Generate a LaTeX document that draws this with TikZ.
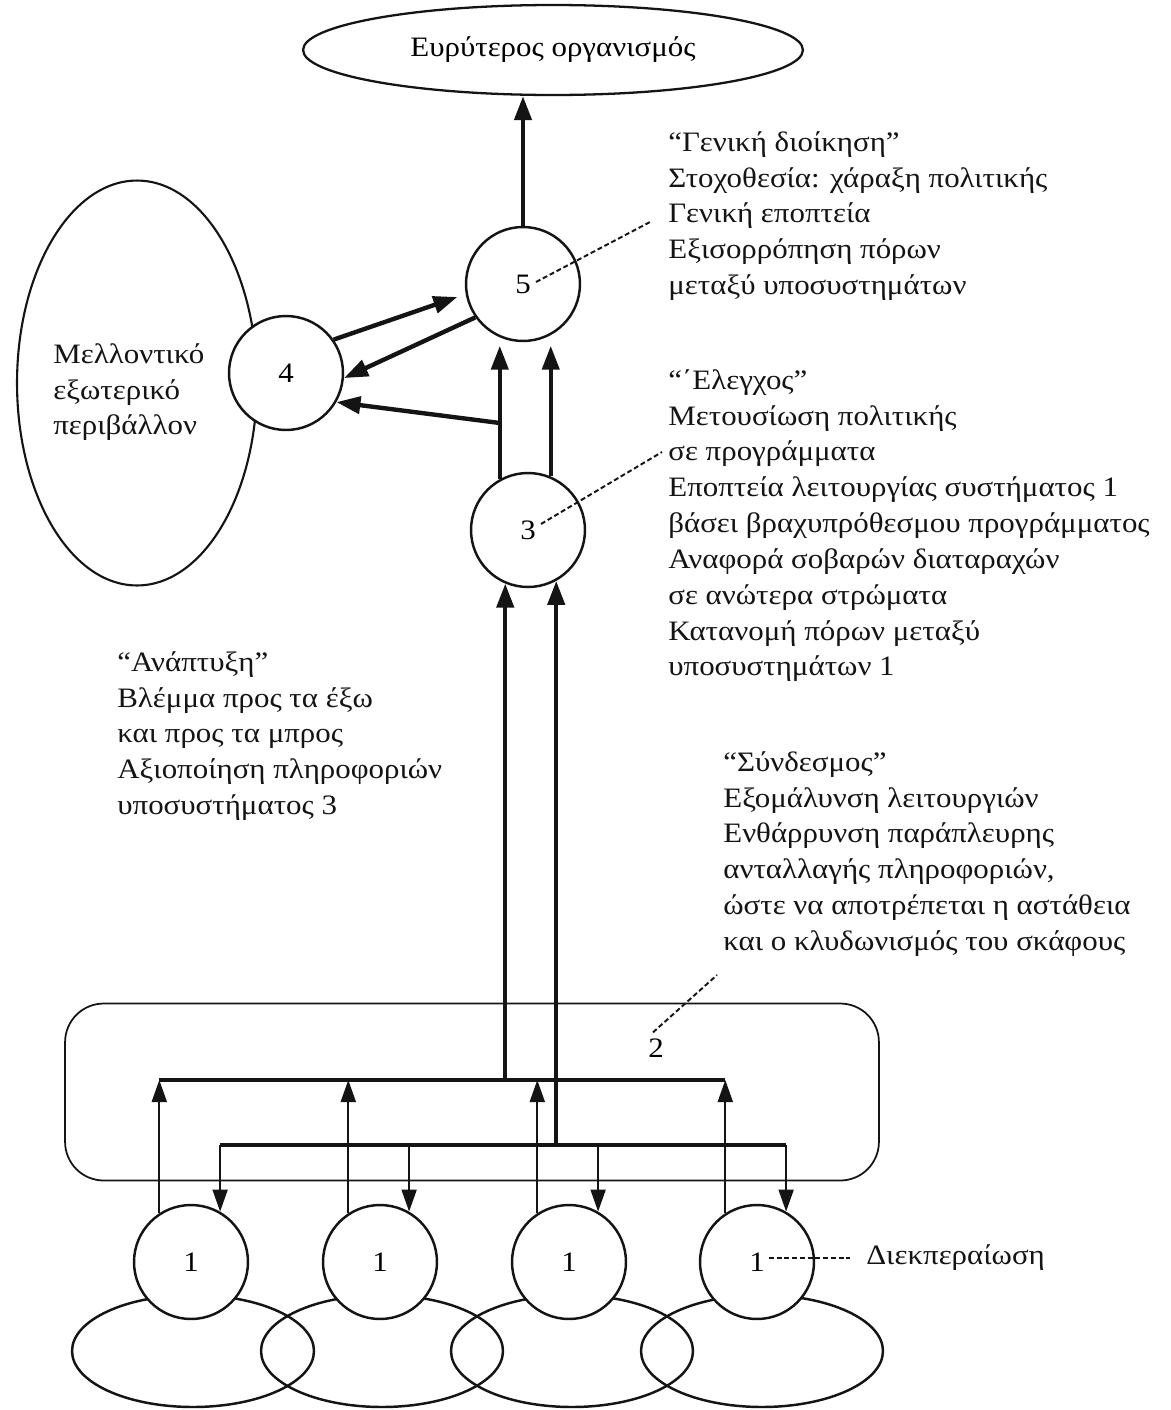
\documentclass[tikz,border=0pt]{standalone}
\usepackage{fontspec}
\setmainfont[FakeStretch=1.1]{Liberation Serif}
\usetikzlibrary{
  shapes.geometric,
  arrows.meta,
  positioning,
  calc
}
\definecolor{inkcolor}{RGB}{20, 20, 20}
\newcommand{\diagfont}{\fontsize{16}{20.4}\selectfont}
\tikzset{
bodytext/.style={
  font=\diagfont,
  text=inkcolor,
  align=left,
  inner sep=0pt
},
unitcircle/.style={
  circle,
  draw=inkcolor,
  fill=white,
  line width=1.4pt,
  minimum size=2.28cm,
  inner sep=0pt,
  font=\diagfont
},
orgellipse/.style={
  ellipse,
  draw=inkcolor,
  line width=1.3pt,
  minimum width=10cm,
  minimum height=1.8cm,
  font=\diagfont
},
envellipse/.style={
  ellipse,
  draw=inkcolor,
  line width=1.2pt,
  minimum width=4.8cm,
  minimum height=8.1cm
},
groundellipse/.style={
  ellipse,
  draw=inkcolor,
  line width=1.4pt,
  minimum width=4.84cm,
  minimum height=2.24cm
},
linkbox/.style={
  draw=inkcolor,
  rounded corners=22pt,
  line width=1pt,
  minimum width=16.28cm,
  minimum height=3.54cm
},
busline/.style={
  draw=inkcolor,
  line width=1.8pt
},
thinarrow/.style={
  -{Triangle[length=4.4mm,width=3mm]},
  line width=1.1pt,
  draw=inkcolor
},
heavyarrow/.style={
  -{Triangle[length=4.8mm,width=3.4mm]},
  line width=2.5pt,
  draw=inkcolor
},
leader/.style={
  draw=inkcolor,
  line width=1.1pt,
  dash pattern=on 2.8pt off 1.6pt
}
}

\begin{document}
\begin{tikzpicture}[x=0.02cm, y=-0.02cm]
  \useasboundingbox[fill=white] (0,0) rectangle (1170,1410);

  \node[orgellipse] (org) at (553,50) {Ευρύτερος οργανισμός};
  \node[envellipse] (env) at (137,383) {};
  \node[bodytext, anchor=north west] (envtext) at (53,343) {Μελλοντικό\\εξωτερικό\\περιβάλλον};

  \node[unitcircle] (c5) at (523,284) {5};
  \node[unitcircle] (c4) at (286,373) {4};
  \node[unitcircle] (c3) at (528,530) {3};

  \node[linkbox] (box2) at (472,1092) {};
  \node[font=\diagfont, inner sep=0pt] (lbl2) at (656,1048) {2};

  \foreach \i/\x in {a/193, b/382, c/572, d/762}
    \node[groundellipse] (g\i) at (\x,1351) {};
  \foreach \i/\x in {a/191, b/380, c/569, d/757}
    \node[unitcircle] (c1\i) at (\x,1262) {1};

  \coordinate (busup) at (0,1080);
  \coordinate (busdn) at (0,1145);
  \draw[busline] (c1a.123 |- busup) -- (c1d.123 |- busup);
  \draw[busline] (c1a.60 |- busdn) -- (c1d.60 |- busdn);
  \foreach \i in {a,b,c,d} {
    \draw[thinarrow] (c1\i.123) -- (c1\i.123 |- busup);
    \draw[thinarrow] (c1\i.60 |- busdn) -- (c1\i.60);
  }

  \draw[heavyarrow] (c3.247 |- busup) -- (c3.247);
  \draw[heavyarrow] (c3.299 |- busdn) -- (c3.299);

  \coordinate (tap) at (500,423);
  \draw[heavyarrow, shorten >=2pt] (c3.119) -- (c3.119 |- c5.south);
  \draw[heavyarrow, shorten >=2pt] (c3.67) -- (c3.67 |- c5.south);
  \draw[heavyarrow] (c3.119 |- tap) -- (c4.330);

  \draw[heavyarrow, shorten >=5pt] (c4.35) -- (c5.190);
  \draw[heavyarrow] (c5.215) -- (c4.355);
  \draw[heavyarrow] (c5.north) -- (c5.north |- org.south);

  \node[bodytext, anchor=north west] (boss) at (668,131) {“Γενική διοίκηση”\\Στοχοθεσία: χάραξη πολιτικής\\Γενική εποπτεία\\Εξισορρόπηση πόρων\\μεταξύ υποσυστημάτων};
  \node[bodytext, anchor=north west] (ctrl) at (668,369) {“΄Ελεγχος”\\Μετουσίωση πολιτικής\\σε προγράμματα\\Εποπτεία λειτουργίας συστήματος 1\\βάσει βραχυπρόθεσμου προγράμματος\\Αναφορά σοβαρών διαταραχών\\σε ανώτερα στρώματα\\Κατανομή πόρων μεταξύ\\υποσυστημάτων 1};
  \node[bodytext, anchor=north west] (devt) at (117,651) {“Ανάπτυξη”\\Βλέμμα προς τα έξω\\και προς τα μπρος\\Αξιοποίηση πληροφοριών\\υποσυστήματος 3};
  \node[bodytext, anchor=north west] (link) at (723,751) {“Σύνδεσμος”\\Εξομάλυνση λειτουργιών\\Ενθάρρυνση παράπλευρης\\ανταλλαγής πληροφοριών,\\ώστε να αποτρέπεται η αστάθεια\\και ο κλυδωνισμός του σκάφους};
  \node[bodytext, anchor=west] (oper) at (866,1258) {Διεκπεραίωση};

  \coordinate (l5) at (650,222);
  \coordinate (l3) at (662,452);
  \coordinate (l2) at (717,975);
  \draw[leader] ($(c5.center)+(13,-2)$) -- (l5);
  \draw[leader] ($(c3.center)+(13,-6)$) -- (l3);
  \draw[leader] ($(lbl2.north)+(-3,-6)$) -- (l2);
  \draw[leader] ($(c1d.center)+(12,-4)$) -- ($(oper.west)+(-16,0)$);
\end{tikzpicture}
\end{document}
